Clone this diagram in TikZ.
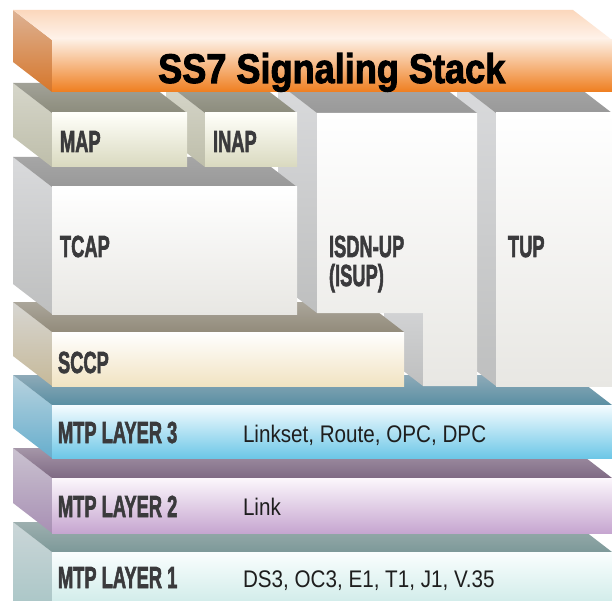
\documentclass[tikz,border=0pt]{standalone}
\usepackage{fontspec}
\setmainfont{Liberation Sans}
\newfontfamily\heavyfont{Liberation Sans}[BoldFeatures={FakeBold=2.5}]
\definecolor{orT1}{HTML}{FBD7BC}\definecolor{orT2}{HTML}{FFF4EC}
\definecolor{orF1}{HTML}{FDEEE2}\definecolor{orFm}{HTML}{F8B680}\definecolor{orF2}{HTML}{EF7E1F}
\definecolor{orS1}{HTML}{DDB294}\definecolor{orS2}{HTML}{D6762A}
\definecolor{mpT1}{HTML}{A2A298}\definecolor{mpT2}{HTML}{8C8C7C}
\definecolor{mpF1}{HTML}{FFFFFA}\definecolor{mpF2}{HTML}{D9D9BF}
\definecolor{mpS1}{HTML}{D6D6CA}\definecolor{mpS2}{HTML}{BEBEAA}
\definecolor{gyT1}{HTML}{A6A6A6}\definecolor{gyT2}{HTML}{999999}
\definecolor{gyF1}{HTML}{FFFFFF}\definecolor{gyF2}{HTML}{E8E7E3}
\definecolor{gyS1}{HTML}{D9DADC}\definecolor{gyS2}{HTML}{BEBFBF}
\definecolor{scT1}{HTML}{ABA69A}\definecolor{scT2}{HTML}{928B7B}
\definecolor{scF1}{HTML}{FFFFFF}\definecolor{scF2}{HTML}{F1E3C2}
\definecolor{scS1}{HTML}{D7D6D2}\definecolor{scS2}{HTML}{C6B999}
\definecolor{m3T1}{HTML}{8EAAB8}\definecolor{m3T2}{HTML}{5A8FA3}
\definecolor{m3F1}{HTML}{F5FCFF}\definecolor{m3F2}{HTML}{6DC7E7}
\definecolor{m3S1}{HTML}{B8D2DE}\definecolor{m3S2}{HTML}{66AECD}
\definecolor{m2T1}{HTML}{A596A8}\definecolor{m2T2}{HTML}{7F6A84}
\definecolor{m2F1}{HTML}{FCF7FC}\definecolor{m2F2}{HTML}{C6A6D0}
\definecolor{m2S1}{HTML}{CAC2D0}\definecolor{m2S2}{HTML}{A890B4}
\definecolor{m1T1}{HTML}{9DAFAF}\definecolor{m1T2}{HTML}{7D9999}
\definecolor{m1F1}{HTML}{FAFEFE}\definecolor{m1F2}{HTML}{B3DFDB}
\definecolor{m1S1}{HTML}{CBD6D8}\definecolor{m1S2}{HTML}{9DC0C0}
\definecolor{lblc}{HTML}{3A3A3C}
\definecolor{txtc}{HTML}{1E1E1E}
\tikzset{
  orS/.style={top color=orS1,bottom color=orS2},
  orT/.style={top color=orT1,bottom color=orT2},
  orF/.style={top color=orF1,middle color=orFm,bottom color=orF2},
  mpS/.style={top color=mpS1,bottom color=mpS2},
  mpT/.style={top color=mpT1,bottom color=mpT2},
  mpF/.style={top color=mpF1,bottom color=mpF2},
  gyS/.style={top color=gyS1,bottom color=gyS2},
  gyT/.style={top color=gyT1,bottom color=gyT2},
  gyF/.style={top color=gyF1,bottom color=gyF2},
  scS/.style={top color=scS1,bottom color=scS2},
  scT/.style={top color=scT1,bottom color=scT2},
  scF/.style={top color=scF1,bottom color=scF2},
  m3S/.style={top color=m3S1,bottom color=m3S2},
  m3T/.style={top color=m3T1,bottom color=m3T2},
  m3F/.style={top color=m3F1,bottom color=m3F2},
  m2S/.style={top color=m2S1,bottom color=m2S2},
  m2T/.style={top color=m2T1,bottom color=m2T2},
  m2F/.style={top color=m2F1,bottom color=m2F2},
  m1S/.style={top color=m1S1,bottom color=m1S2},
  m1T/.style={top color=m1T1,bottom color=m1T2},
  m1F/.style={top color=m1F1,bottom color=m1F2},
  lab/.style={anchor=base west,inner sep=0pt,outer sep=0pt,text=lblc},
  plain/.style={anchor=base west,inner sep=0pt,outer sep=0pt,text=txtc},
}
% x1 y1 x2 y2 side top front
\newcommand{\layerbox}[7]{%
  \shade[#5] (#1,#2) -- (#1,#4) -- ({#1-39},{#4-30}) -- ({#1-39},{#2-30}) -- cycle;
  \shade[#6] (#1,#2) -- (#3,#2) -- ({#3-39},{#2-30}) -- ({#1-39},{#2-30}) -- cycle;
  \shade[#7] (#1,#2) rectangle (#3,#4);
}
\newcommand{\lbl}[1]{\scalebox{0.6}[1]{\fontsize{30.5}{30}\heavyfont\bfseries #1}}
\newcommand{\txt}[1]{\scalebox{0.86}[1]{\fontsize{24}{24}\selectfont #1}}
\begin{document}
\begin{tikzpicture}[x=1pt,y=-1pt]
\useasboundingbox (0,0) rectangle (612,601);
\fill[white] (0,0) rectangle (612,601);
\clip (0,0) rectangle (612,601);
% MTP layers (bottom first)
\layerbox{52}{552}{612}{640}{m1S}{m1T}{m1F}
\layerbox{52}{478}{612}{533}{m2S}{m2T}{m2F}
\layerbox{52}{405}{612}{458}{m3S}{m3T}{m3F}
% TUP column
\layerbox{496}{113}{612}{386}{gyS}{gyT}{gyF}
% ISDN-UP lower side face
\shade[gyS] (423,313) -- (423,386) -- (384,356) -- (384,283) -- cycle;
% SCCP
\layerbox{52}{332}{404}{386}{scS}{scT}{scF}
% ISDN-UP upper side, top and L-shaped front
\shade[gyS] (317,113) -- (317,313) -- (278,283) -- (278,83) -- cycle;
\shade[gyT] (317,113) -- (477,113) -- (438,83) -- (278,83) -- cycle;
\shade[gyF] (317,113) -- (477,113) -- (477,386) -- (423,386) -- (423,313) -- (317,313) -- cycle;
% TCAP
\layerbox{52}{187}{297}{314}{gyS}{gyT}{gyF}
% INAP then MAP
\layerbox{205}{113}{297}{167}{mpS}{mpT}{mpF}
\layerbox{52}{113}{187}{167}{mpS}{mpT}{mpF}
% Title bar
\layerbox{52}{40}{612}{92}{orS}{orT}{orF}
% Texts
\node[anchor=base west,inner sep=0pt,text=black] (title) at (158,83)
  {\resizebox{347pt}{30pt}{\heavyfont\bfseries SS7 Signaling Stack}};
\node[lab] (map) at (60,152) {\lbl{MAP}};
\node[lab] (inap) at (213,152) {\lbl{INAP}};
\node[lab] (tcap) at (60,257) {\lbl{TCAP}};
\node[lab] (sccp) at (58,373) {\lbl{SCCP}};
\node[lab] (isdn) at (329,257) {\lbl{ISDN-UP}};
\node[lab] (isup) at (329,286) {\lbl{(ISUP)}};
\node[lab] (tup) at (508,257) {\lbl{TUP}};
\node[lab] (mtp3) at (58,443) {\lbl{MTP LAYER 3}};
\node[lab] (mtp2) at (58,517) {\lbl{MTP LAYER 2}};
\node[lab] (mtp1) at (58,588) {\lbl{MTP LAYER 1}};
\node[plain] (t3) at (243,442) {\txt{Linkset, Route, OPC, DPC}};
\node[plain] (t2) at (243,515) {\txt{Link}};
\node[plain] (t1) at (243,587) {\txt{DS3, OC3, E1, T1, J1, V.35}};
\end{tikzpicture}
\end{document}
